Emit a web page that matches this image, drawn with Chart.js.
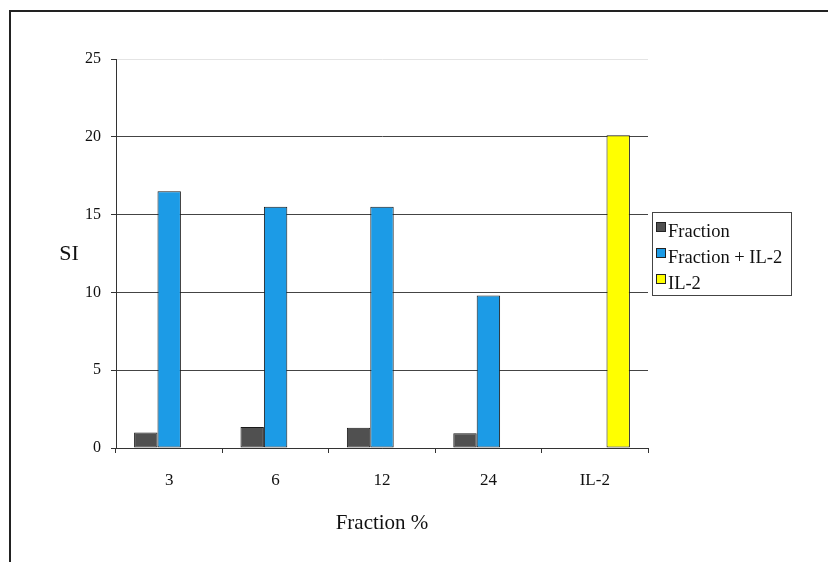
<!DOCTYPE html>
<html>
<head>
<meta charset="utf-8">
<script src="https://cdn.jsdelivr.net/npm/chart.js@4"></script>
<style>
  html, body { margin: 0; padding: 0; background: #fff; }
  #wrap { width: 828px; height: 562px; position: relative; }
</style>
</head>
<body>
<div id="wrap"><canvas id="c" width="828" height="562"></canvas></div>
<script>
// Stimulation index per fraction concentration
const categories = ['3', '6', '12', '24', 'IL-2'];
const seriesNames = ['Fraction', 'Fraction + IL-2', 'IL-2'];
const fractionSI = [1.0, 1.35, 1.3, 0.95, null];
const fractionIl2SI = [16.5, 15.5, 15.5, 9.8, null];
const il2SI = [null, null, null, null, 20.1];
const yMin = 0, yMax = 25, yStep = 5;
const yTitle = 'SI';
const xTitle = 'Fraction %';

const colors = ['#505050', '#1c9be6', '#ffff00'];
const serif = '"Liberation Serif", "DejaVu Serif", serif';

// Page frame, axis titles and the boxed legend
const decorations = {
  id: 'decorations',
  beforeDraw(chart) {
    const ctx = chart.ctx;
    ctx.save();
    ctx.fillStyle = '#fff';
    ctx.fillRect(0, 0, chart.width, chart.height);
    ctx.strokeStyle = '#222';
    ctx.lineWidth = 2;
    ctx.beginPath();
    ctx.moveTo(10, chart.height);
    ctx.lineTo(10, 11);
    ctx.lineTo(chart.width, 11);
    ctx.stroke();
    ctx.restore();
  },
  afterDraw(chart) {
    const ctx = chart.ctx;
    const area = chart.chartArea;
    ctx.save();
    ctx.fillStyle = '#111';
    ctx.textAlign = 'center';
    ctx.textBaseline = 'middle';
    ctx.font = '22px ' + serif;
    ctx.fillText(yTitle, 69, 254);
    ctx.font = '21px ' + serif;
    ctx.fillText(xTitle, (area.left + area.right) / 2, 523);

    // legend box
    const bx = area.right + 4, by = 212, bw = 139, bh = 83;
    ctx.strokeStyle = '#444';
    ctx.lineWidth = 1;
    ctx.strokeRect(bx + 0.5, by + 0.5, bw, bh);
    ctx.font = '18.5px ' + serif;
    ctx.textAlign = 'left';
    chart.data.datasets.forEach((ds, i) => {
      const cy = by + 20 + i * 26;
      ctx.fillStyle = ds.backgroundColor;
      ctx.fillRect(bx + 4, cy - 10, 10, 10);
      ctx.strokeStyle = '#222';
      ctx.strokeRect(bx + 4.5, cy - 9.5, 9, 9);
      ctx.fillStyle = '#111';
      ctx.fillText(ds.label, bx + 16, cy);
    });
    ctx.restore();
  }
};

new Chart(document.getElementById('c'), {
  type: 'bar',
  data: {
    labels: categories,
    datasets: [
      { label: seriesNames[0], data: fractionSI, backgroundColor: colors[0] },
      { label: seriesNames[1], data: fractionIl2SI, backgroundColor: colors[1] },
      { label: seriesNames[2], data: il2SI, backgroundColor: colors[2] }
    ].map(d => Object.assign(d, { borderColor: '#1a1a1a', borderWidth: 1, borderSkipped: false }))
  },
  options: {
    responsive: false,
    animation: false,
    devicePixelRatio: 1,
    layout: { padding: { left: 0, top: 59, right: 180, bottom: 0 } },
    datasets: { bar: { categoryPercentage: 0.66, barPercentage: 1.0 } },
    plugins: { legend: { display: false }, tooltip: { enabled: false } },
    scales: {
      x: {
        grid: { drawOnChartArea: false, drawTicks: true, tickLength: 5, tickColor: '#333', offset: true },
        border: { color: '#333', width: 1 },
        ticks: { color: '#111', font: { family: serif, size: 17 }, padding: 17 },
        afterFit(scale) { scale.height = 562 - 448; }
      },
      y: {
        min: yMin, max: yMax,
        grid: {
          color: ctx => (ctx.tick && ctx.tick.value === yMax) ? '#e4e4e4' : '#444',
          tickColor: '#333',
          tickLength: 5
        },
        border: { color: '#333', width: 1 },
        ticks: { stepSize: yStep, color: '#111', font: { family: serif, size: 16 }, padding: 10 },
        afterFit(scale) { scale.width = 116; }
      }
    }
  },
  plugins: [decorations]
});
</script>
</body>
</html>
